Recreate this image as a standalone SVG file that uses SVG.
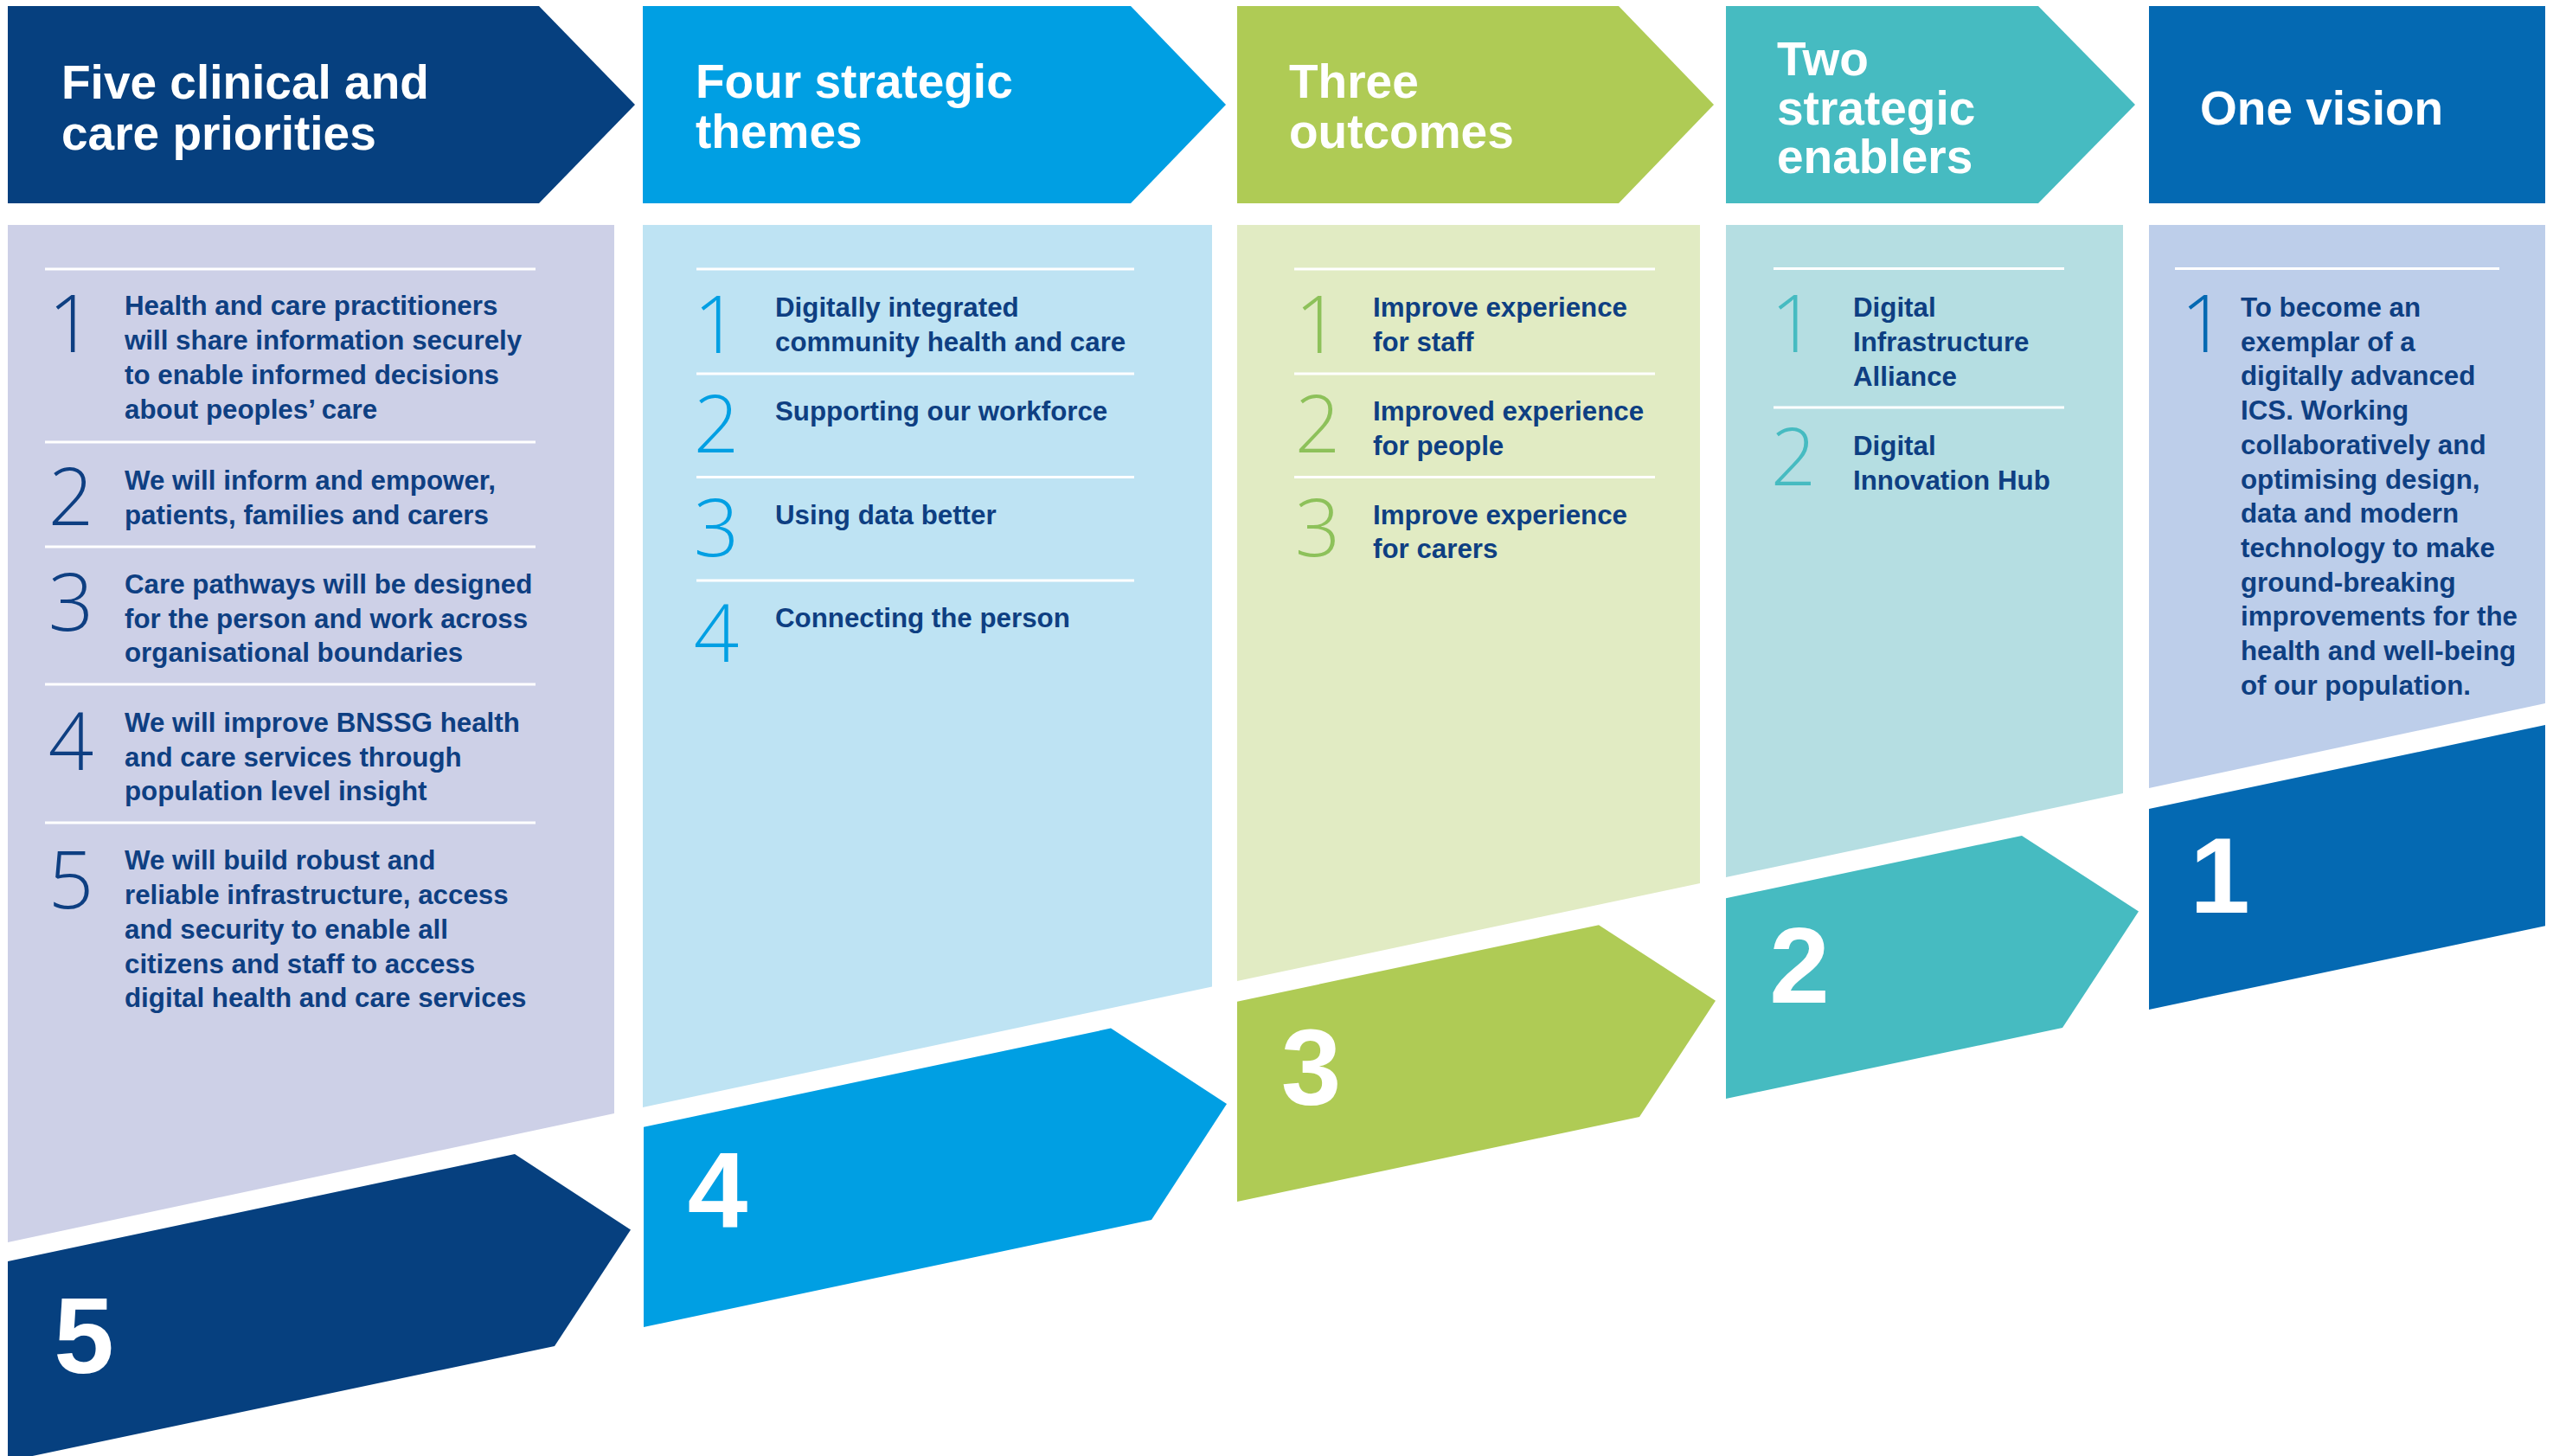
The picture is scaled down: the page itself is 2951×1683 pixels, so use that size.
<svg xmlns="http://www.w3.org/2000/svg" width="2951" height="1683" viewBox="0 0 2951 1683">
<style>
.hd{font-family:"Liberation Sans",Arial,sans-serif;font-weight:700;font-size:55px;fill:#ffffff}
.tx{font-family:"Liberation Sans",Arial,sans-serif;font-weight:700;font-size:31.3px;fill:#0e3f82}
.num{font-family:"Open Sans",Lato,"Liberation Sans",Arial,sans-serif;font-weight:300;font-size:92px;text-anchor:middle}
.big{font-family:"Liberation Sans",Arial,sans-serif;font-weight:700;font-size:125px;fill:#ffffff;text-anchor:middle}
.dv{stroke:#ffffff;stroke-width:3;fill:none}
</style>
<rect x="0" y="0" width="2951" height="1683" fill="#ffffff"/>

<g id="col1-header">
<polygon points="9,7 623,7 734,121 623,235 9,235" fill="#06407f"/>
<text class="hd" x="71" y="114">Five clinical and</text>
<text class="hd" x="71" y="173">care priorities</text>
</g>
<g id="col2-header">
<polygon points="743,7 1307,7 1417,121 1307,235 743,235" fill="#009fe3"/>
<text class="hd" x="804" y="113">Four strategic</text>
<text class="hd" x="804" y="171">themes</text>
</g>
<g id="col3-header">
<polygon points="1430,7 1871,7 1981,121 1871,235 1430,235" fill="#afcb55"/>
<text class="hd" x="1490" y="113">Three</text>
<text class="hd" x="1490" y="171">outcomes</text>
</g>
<g id="col4-header">
<polygon points="1995,7 2356,7 2468,121 2356,235 1995,235" fill="#46bbc1"/>
<text class="hd" x="2054" y="87">Two</text>
<text class="hd" x="2054" y="143.5">strategic</text>
<text class="hd" x="2054" y="199.5">enablers</text>
</g>
<g id="col5-header">
<rect x="2484" y="7" width="458" height="228" fill="#0469b2"/>
<text class="hd" x="2543" y="143.5">One vision</text>
</g>

<g id="col1-panel">
<polygon points="9,260 710,260 710,1287 9,1436" fill="#cdd0e7"/>
<g class="dv">
<line x1="52" y1="311" x2="619" y2="311"/>
<line x1="52" y1="511" x2="619" y2="511"/>
<line x1="52" y1="632" x2="619" y2="632"/>
<line x1="52" y1="791" x2="619" y2="791"/>
<line x1="52" y1="951" x2="619" y2="951"/>
</g>
<g fill="#0e3f82">
<text class="num" x="82" y="407">1</text>
<text class="num" x="82" y="607">2</text>
<text class="num" x="82" y="729">3</text>
<text class="num" x="82" y="890">4</text>
<text class="num" x="82" y="1050">5</text>
</g>
<text class="tx" x="144" y="364">Health and care practitioners</text>
<text class="tx" x="144" y="404">will share information securely</text>
<text class="tx" x="144" y="444">to enable informed decisions</text>
<text class="tx" x="144" y="484">about peoples’ care</text>
<text class="tx" x="144" y="566">We will inform and empower,</text>
<text class="tx" x="144" y="605.5">patients, families and carers</text>
<text class="tx" x="144" y="686">Care pathways will be designed</text>
<text class="tx" x="144" y="725.5">for the person and work across</text>
<text class="tx" x="144" y="765">organisational boundaries</text>
<text class="tx" x="144" y="846">We will improve BNSSG health</text>
<text class="tx" x="144" y="885.5">and care services through</text>
<text class="tx" x="144" y="925">population level insight</text>
<text class="tx" x="144" y="1005">We will build robust and</text>
<text class="tx" x="144" y="1045">reliable infrastructure, access</text>
<text class="tx" x="144" y="1085">and security to enable all</text>
<text class="tx" x="144" y="1124.5">citizens and staff to access</text>
<text class="tx" x="144" y="1164">digital health and care services</text>
</g>

<g id="col2-panel">
<polygon points="743,260 1401,260 1401,1140.5 743,1280" fill="#bee3f3"/>
<g class="dv">
<line x1="805" y1="311" x2="1311" y2="311"/>
<line x1="805" y1="432" x2="1311" y2="432"/>
<line x1="805" y1="551.5" x2="1311" y2="551.5"/>
<line x1="805" y1="671" x2="1311" y2="671"/>
</g>
<g fill="#009fe3">
<text class="num" x="828" y="408">1</text>
<text class="num" x="828" y="523">2</text>
<text class="num" x="828" y="643">3</text>
<text class="num" x="828" y="765">4</text>
</g>
<text class="tx" x="896" y="366">Digitally integrated</text>
<text class="tx" x="896" y="406">community health and care</text>
<text class="tx" x="896" y="486">Supporting our workforce</text>
<text class="tx" x="896" y="605.5">Using data better</text>
<text class="tx" x="896" y="725">Connecting the person</text>
</g>

<g id="col3-panel">
<polygon points="1430,260 1965,260 1965,1021 1430,1134" fill="#e1ebc3"/>
<g class="dv">
<line x1="1496" y1="311" x2="1913" y2="311"/>
<line x1="1496" y1="432" x2="1913" y2="432"/>
<line x1="1496" y1="551.5" x2="1913" y2="551.5"/>
</g>
<g fill="#8dc15a">
<text class="num" x="1523" y="408">1</text>
<text class="num" x="1523" y="523">2</text>
<text class="num" x="1523" y="643">3</text>
</g>
<text class="tx" x="1587" y="366">Improve experience</text>
<text class="tx" x="1587" y="406">for staff</text>
<text class="tx" x="1587" y="486">Improved experience</text>
<text class="tx" x="1587" y="526">for people</text>
<text class="tx" x="1587" y="605.5">Improve experience</text>
<text class="tx" x="1587" y="645">for carers</text>
</g>

<g id="col4-panel">
<polygon points="1995,260 2454,260 2454,917 1995,1014" fill="#b5dee2"/>
<g class="dv">
<line x1="2050" y1="310.5" x2="2386" y2="310.5"/>
<line x1="2050" y1="471" x2="2386" y2="471"/>
</g>
<g fill="#46bbc1">
<text class="num" x="2073" y="407">1</text>
<text class="num" x="2073" y="561">2</text>
</g>
<text class="tx" x="2142" y="366">Digital</text>
<text class="tx" x="2142" y="405.5">Infrastructure</text>
<text class="tx" x="2142" y="445.5">Alliance</text>
<text class="tx" x="2142" y="526">Digital</text>
<text class="tx" x="2142" y="566">Innovation Hub</text>
</g>

<g id="col5-panel">
<polygon points="2484,260 2942,260 2942,813 2484,911" fill="#bdceea"/>
<line class="dv" x1="2514" y1="310.5" x2="2889" y2="310.5"/>
<text class="num" x="2547" y="407" fill="#0469b2">1</text>
<text class="tx" x="2590" y="366">To become an</text>
<text class="tx" x="2590" y="405.7">exemplar of a</text>
<text class="tx" x="2590" y="445.4">digitally advanced</text>
<text class="tx" x="2590" y="485.1">ICS. Working</text>
<text class="tx" x="2590" y="524.8">collaboratively and</text>
<text class="tx" x="2590" y="564.5">optimising design,</text>
<text class="tx" x="2590" y="604.2">data and modern</text>
<text class="tx" x="2590" y="643.9">technology to make</text>
<text class="tx" x="2590" y="683.6">ground-breaking</text>
<text class="tx" x="2590" y="723.3">improvements for the</text>
<text class="tx" x="2590" y="763">health and well-being</text>
<text class="tx" x="2590" y="802.7">of our population.</text>
</g>

<g id="step5">
<polygon points="9,1458 595,1334 729,1421.5 641,1556 9,1689" fill="#06407f"/>
<text class="big" x="97" y="1587">5</text>
</g>
<g id="step4">
<polygon points="744,1302.7 1284,1188.6 1418,1276 1331,1410 744,1534" fill="#009fe3"/>
<text class="big" x="829.5" y="1418">4</text>
</g>
<g id="step3">
<polygon points="1430,1157.7 1848,1069.3 1983,1156.7 1895,1291 1430,1389" fill="#afcb55"/>
<text class="big" x="1515.5" y="1277">3</text>
</g>
<g id="step2">
<polygon points="1995,1038.3 2337,966 2472,1053.4 2384,1188 1995,1270" fill="#46bbc1"/>
<text class="big" x="2080" y="1158.5">2</text>
</g>
<g id="step1">
<polygon points="2484,934.9 2942,838.1 2942,1070.2 2484,1166.9" fill="#0469b2"/>
<text class="big" x="2566" y="1055">1</text>
</g>

<g id="connectors"/>
</svg>
